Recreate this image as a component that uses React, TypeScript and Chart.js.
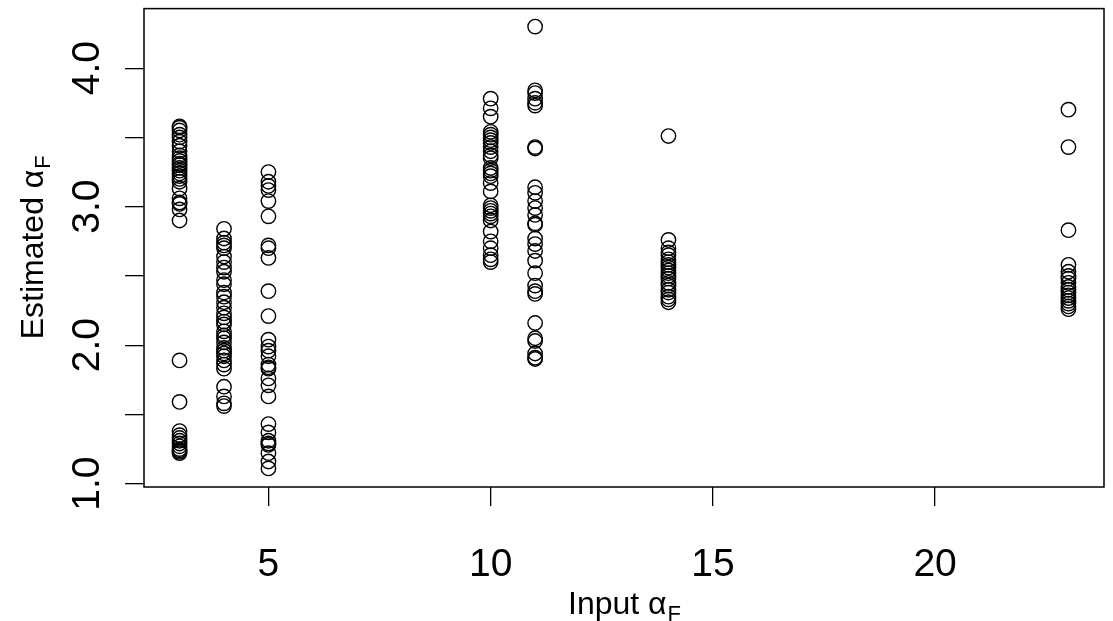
import React, { useEffect, useRef } from 'react';
import { Chart, registerables } from 'chart.js';

Chart.register(...registerables);

// ---- data ----
const inputs = [3, 4, 5, 10, 11, 14, 23];
const est3 = [3.58, 3.57, 3.55, 3.52, 3.5, 3.47, 3.44, 3.4, 3.37, 3.35, 3.33, 3.31, 3.3, 3.28, 3.26, 3.24, 3.22, 3.2, 3.18, 3.13, 3.06, 3.03, 3.02, 2.98, 2.9, 1.89, 1.59, 1.38, 1.35, 1.33, 1.31, 1.29, 1.27, 1.25, 1.24, 1.23, 1.22];
const est4 = [2.84, 2.77, 2.74, 2.72, 2.7, 2.64, 2.6, 2.56, 2.53, 2.47, 2.44, 2.38, 2.35, 2.31, 2.27, 2.23, 2.2, 2.17, 2.15, 2.1, 2.07, 2.05, 2.02, 1.98, 1.96, 1.94, 1.92, 1.89, 1.86, 1.83, 1.7, 1.63, 1.58, 1.56];
const est5 = [3.25, 3.18, 3.15, 3.12, 3.04, 2.93, 2.72, 2.7, 2.63, 2.39, 2.21, 2.04, 1.99, 1.96, 1.92, 1.86, 1.84, 1.83, 1.76, 1.71, 1.63, 1.43, 1.37, 1.31, 1.29, 1.28, 1.22, 1.16, 1.11];
const est10 = [3.78, 3.71, 3.65, 3.54, 3.52, 3.5, 3.48, 3.46, 3.43, 3.4, 3.37, 3.35, 3.28, 3.26, 3.24, 3.22, 3.17, 3.11, 3.01, 2.99, 2.97, 2.95, 2.93, 2.9, 2.82, 2.75, 2.7, 2.65, 2.62, 2.6];
const est11 = [4.3, 3.84, 3.82, 3.78, 3.75, 3.73, 3.43, 3.42, 3.14, 3.1, 3.04, 2.99, 2.94, 2.88, 2.87, 2.77, 2.73, 2.68, 2.61, 2.52, 2.43, 2.39, 2.37, 2.16, 2.05, 2.03, 1.94, 1.91, 1.9];
const est14 = [3.51, 2.76, 2.7, 2.67, 2.65, 2.62, 2.6, 2.58, 2.56, 2.54, 2.52, 2.5, 2.48, 2.45, 2.43, 2.4, 2.38, 2.35, 2.33, 2.31];
const est23 = [3.7, 3.43, 2.83, 2.58, 2.53, 2.5, 2.48, 2.45, 2.42, 2.4, 2.38, 2.36, 2.34, 2.32, 2.3, 2.28, 2.26];
const estimates = [est3, est4, est5, est10, est11, est14, est23];

const xTicks = [5, 10, 15, 20];
const yTicks = [1, 1.5, 2, 2.5, 3, 3.5, 4];
const xRange = [2.2, 23.8];
const yRange = [0.976, 4.43];

const xTitle = 'Input \u03B1';
const yTitle = 'Estimated \u03B1';
const titleSub = 'F';

const FONT = '"Liberation Sans", Arial, Helvetica, sans-serif';
const TICK_SIZE = 39;
const TITLE_SIZE = 32;

function drawSubTitle(ctx: CanvasRenderingContext2D, main: string, sub: string, cx: number, cy: number, rotate: boolean) {
  ctx.save();
  ctx.translate(cx, cy);
  if (rotate) ctx.rotate(-Math.PI / 2);
  ctx.fillStyle = '#000';
  ctx.textBaseline = 'alphabetic';
  ctx.textAlign = 'left';
  const subSize = Math.round(TITLE_SIZE * 0.7);
  ctx.font = `${TITLE_SIZE}px ${FONT}`;
  const w1 = ctx.measureText(main).width;
  ctx.font = `${subSize}px ${FONT}`;
  const w2 = ctx.measureText(sub).width;
  const start = -(w1 + w2) / 2;
  const base = TITLE_SIZE * 0.358;
  ctx.font = `${TITLE_SIZE}px ${FONT}`;
  ctx.fillText(main, start, base);
  ctx.font = `${subSize}px ${FONT}`;
  ctx.fillText(sub, start + w1 + 1, base + TITLE_SIZE * 0.22);
  ctx.restore();
}

const framePlugin = {
  id: 'rFrame',
  afterDraw(chart: any) {
    const { ctx, chartArea: a } = chart;
    ctx.save();
    ctx.strokeStyle = '#000';
    ctx.lineWidth = 1.5;
    ctx.strokeRect(a.left, a.top, a.right - a.left, a.bottom - a.top);
    ctx.restore();
    drawSubTitle(ctx, xTitle, titleSub, (a.left + a.right) / 2, 603, false);
    drawSubTitle(ctx, yTitle, titleSub, 32, (a.top + a.bottom) / 2, true);
  },
};

export default function App() {
  const ref = useRef<HTMLCanvasElement | null>(null);

  useEffect(() => {
    if (!ref.current) return;
    const points: { x: number; y: number }[] = [];
    inputs.forEach((xv, i) => {
      estimates[i].forEach((yv) => points.push({ x: xv, y: yv }));
    });

    const chart = new Chart(ref.current, {
      type: 'scatter',
      data: {
        datasets: [
          {
            data: points,
            pointStyle: 'circle',
            pointRadius: 7.2,
            pointBorderWidth: 1.4,
            borderColor: '#000',
            backgroundColor: 'rgba(0,0,0,0)',
            pointBackgroundColor: 'rgba(0,0,0,0)',
            pointBorderColor: '#000',
          },
        ],
      },
      options: {
        responsive: false,
        devicePixelRatio: 1,
        animation: false,
        events: [],
        layout: { padding: { top: 6, right: 9, left: 0, bottom: 0 } },
        plugins: { legend: { display: false }, tooltip: { enabled: false }, title: { display: false } },
        scales: {
          x: {
            type: 'linear',
            min: xRange[0],
            max: xRange[1],
            afterBuildTicks: (s: any) => {
              s.ticks = xTicks.map((v) => ({ value: v }));
            },
            afterFit: (s: any) => {
              s.height = 134;
              s.paddingLeft = 0;
              s.paddingRight = 0;
            },
            border: { display: false },
            grid: { display: true, drawOnChartArea: false, drawTicks: true, tickLength: 19, color: '#000', lineWidth: 1.3 },
            ticks: {
              autoSkip: false,
              maxRotation: 0,
              minRotation: 0,
              padding: 36,
              color: '#000',
              font: { family: FONT, size: TICK_SIZE },
              callback: (v: any) => String(v),
            },
          },
          y: {
            type: 'linear',
            min: yRange[0],
            max: yRange[1],
            afterBuildTicks: (s: any) => {
              s.ticks = yTicks.map((v) => ({ value: v }));
            },
            afterFit: (s: any) => {
              s.width = 144;
              s.paddingTop = 0;
              s.paddingBottom = 0;
            },
            border: { display: false },
            grid: { display: true, drawOnChartArea: false, drawTicks: true, tickLength: 19, color: '#000', lineWidth: 1.3 },
            ticks: {
              autoSkip: false,
              minRotation: 90,
              maxRotation: 90,
              crossAlign: 'center',
              padding: 10,
              color: '#000',
              font: { family: FONT, size: TICK_SIZE },
              callback: (v: any) => (Number(v) % 1 === 0 ? Number(v).toFixed(1) : ''),
            },
          },
        },
      },
      plugins: [framePlugin],
    });
    return () => chart.destroy();
  }, []);

  return (
    <div style={{ position: 'fixed', left: 0, top: 0, width: 1113, height: 621, background: '#fff' }}>
      <canvas ref={ref} width={1113} height={621} style={{ display: 'block' }} />
    </div>
  );
}
